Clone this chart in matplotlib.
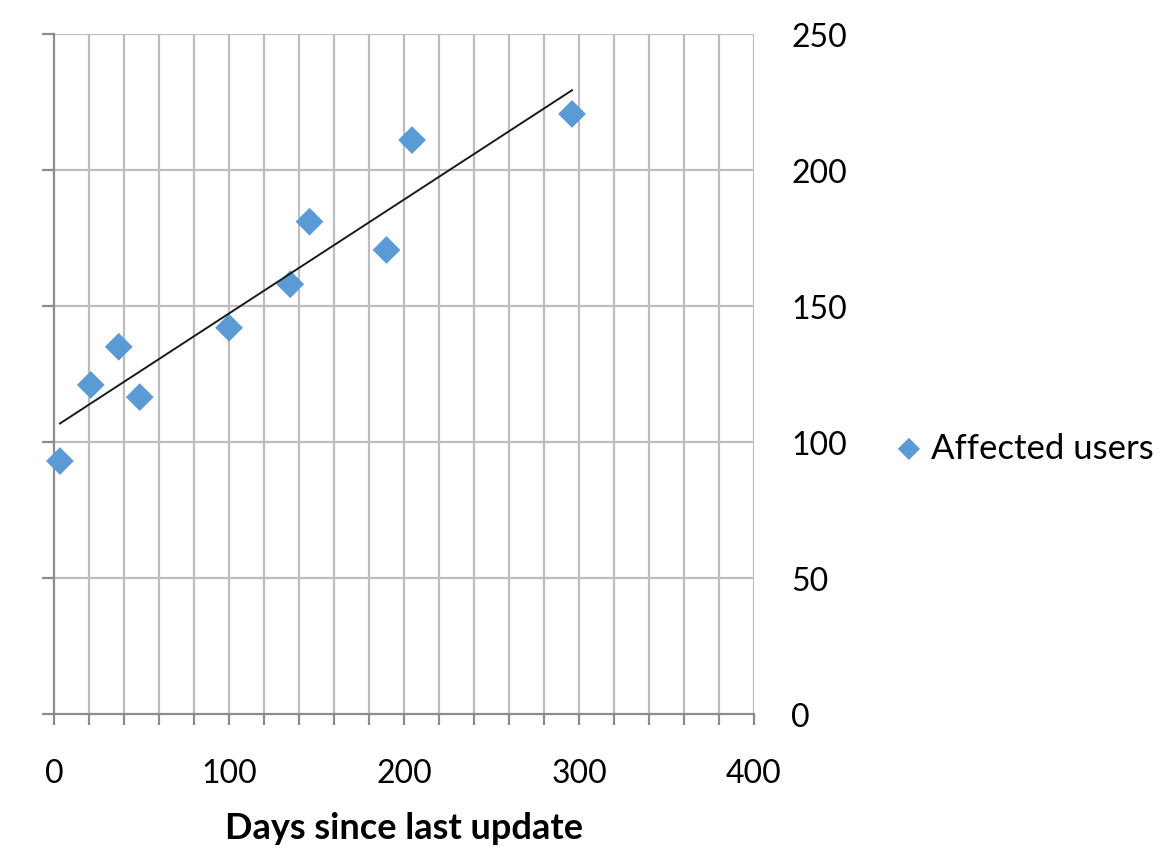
import numpy as np
import matplotlib
matplotlib.use("Agg")
import matplotlib.pyplot as plt

# Days since last update vs. number of affected users
days = [3.4, 21, 37, 49, 100, 135, 146, 190, 204.6, 296]
affected = [93, 121, 135, 116.5, 142, 158, 181, 170.6, 211, 220.6]

x_ticks = [0, 100, 200, 300, 400]
y_ticks = [0, 50, 100, 150, 200, 250]

plt.rcParams['font.family'] = ['Lato', 'DejaVu Sans']

fig = plt.figure(figsize=(11.7, 8.53), dpi=100)
ax = fig.add_axes([54 / 1170, 1 - 715 / 853, 700 / 1170, 680 / 853])

grid_c = '#BDBDBD'
axis_c = '#8C8C8C'

ax.set_xlim(0, 400)
ax.set_ylim(0, 250)

# grid: vertical every 20 days, horizontal every 50 users
for gx in np.arange(20, 401, 20):
    ax.axvline(gx, color=grid_c, lw=1.6, zorder=1)
for gy in y_ticks[1:]:
    ax.axhline(gy, color=grid_c, lw=1.6, zorder=1)

for side in ['top', 'right']:
    ax.spines[side].set_visible(False)
ax.spines['left'].set_color(axis_c)
ax.spines['bottom'].set_color(axis_c)
ax.spines['left'].set_linewidth(1.6)
ax.spines['bottom'].set_linewidth(1.6)

minor_x = np.arange(0, 401, 20)
ax.set_xticks(minor_x)
ax.set_xticklabels([str(v) if v in x_ticks else '' for v in minor_x])
ax.set_yticks(y_ticks)
ax.tick_params(axis='x', direction='out', length=8, width=1.6, color=axis_c,
               labelsize=23, pad=24, labelcolor='black')
ax.tick_params(axis='y', direction='out', length=9, width=1.6, color=axis_c,
               left=True, right=False, labelleft=False, labelright=True,
               labelsize=23, pad=18, labelcolor='black')
for lbl in ax.get_yticklabels():
    lbl.set_horizontalalignment('left')

ax.set_xlabel('Days since last update', fontsize=26, fontweight='bold', labelpad=16)

# scatter points
ax.scatter(days, affected, marker='D', s=200, color='#5B9BD5',
           edgecolors='none', zorder=3, label='Affected users', clip_on=False)

# linear trendline over the data range
coef = np.polyfit(days, affected, 1)
xs = np.array([min(days), max(days)])
ax.plot(xs, np.polyval(coef, xs), color='#1a1a1a', lw=1.4, zorder=4)

ax.legend(loc='center left', bbox_to_anchor=(895 / 1170, 1 - 449 / 853),
          bbox_transform=fig.transFigure, frameon=False, fontsize=25,
          handlelength=0.8, handletextpad=0.25, markerscale=0.8,
          borderpad=0, borderaxespad=0)

fig.savefig('out.png', dpi=100, facecolor='white')
